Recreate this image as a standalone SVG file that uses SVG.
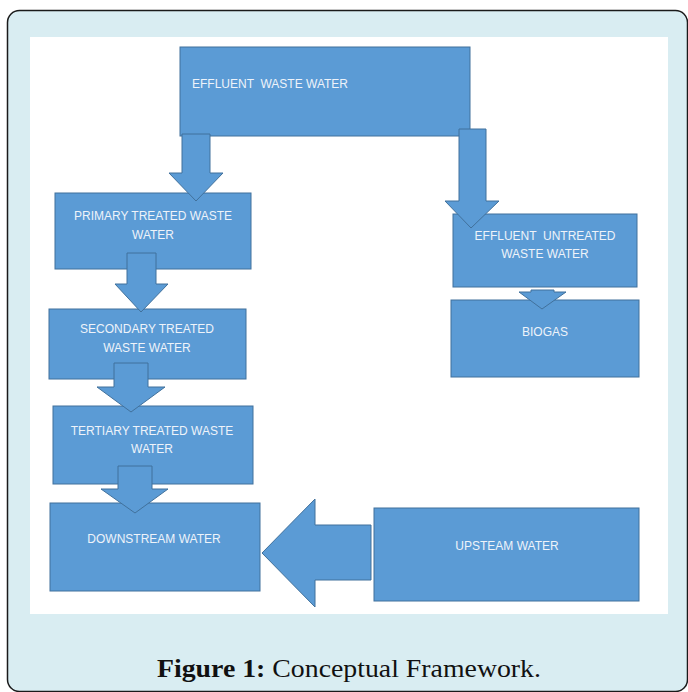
<svg xmlns="http://www.w3.org/2000/svg" width="688" height="692" viewBox="0 0 688 692">
<style>
.box{fill:#5b9bd5;stroke:#41719c;stroke-width:1}
.arr{fill:#5b9bd5;stroke:#41719c;stroke-width:1}
.lbl{font-family:"Liberation Sans",Arial,sans-serif;font-size:12px;fill:#eef3fa;text-anchor:middle;white-space:pre}
.cap{font-family:"Liberation Serif","Times New Roman",serif;font-size:25px;fill:#111}
</style>
<rect x="7.5" y="10.5" width="680" height="681" rx="12" ry="12" fill="#d9edf2" stroke="#1a1a1a" stroke-width="1.5"/>
<rect x="30" y="37" width="638" height="577" fill="#ffffff"/>

<g id="effluent"><rect class="box" x="180" y="47" width="290" height="89"/><text class="lbl" x="192" y="88" style="text-anchor:start">EFFLUENT  WASTE WATER</text></g>
<g id="primary"><rect class="box" x="55" y="193" width="196" height="76"/><text class="lbl" x="153" y="220">PRIMARY TREATED WASTE</text><text class="lbl" x="153" y="239">WATER</text></g>
<g id="secondary"><rect class="box" x="49" y="309" width="197" height="70"/><text class="lbl" x="147" y="333">SECONDARY TREATED</text><text class="lbl" x="147" y="352">WASTE WATER</text></g>
<g id="tertiary"><rect class="box" x="53" y="406" width="200" height="78"/><text class="lbl" x="152" y="435">TERTIARY TREATED WASTE</text><text class="lbl" x="152" y="453">WATER</text></g>
<g id="downstream"><rect class="box" x="50" y="503" width="210" height="88"/><text class="lbl" x="154" y="543">DOWNSTREAM WATER</text></g>
<g id="upstream"><rect class="box" x="374" y="508" width="265" height="93"/><text class="lbl" x="507" y="550">UPSTEAM WATER</text></g>
<g id="untreated"><rect class="box" x="453" y="214" width="184" height="73"/><text class="lbl" x="545" y="240">EFFLUENT  UNTREATED</text><text class="lbl" x="545" y="258">WASTE WATER</text></g>
<g id="biogas"><rect class="box" x="451" y="300" width="188" height="77"/><text class="lbl" x="545" y="336">BIOGAS</text></g>

<g id="connectors">
<polygon class="arr" points="182,134 210,134 210,173 223,173 196,201 169,173 182,173"/>
<polygon class="arr" points="459,129 486,129 486,201 499,201 471,228 445,201 459,201"/>
<polygon class="arr" points="127,253 156,253 156,284 168,284 141,312 115,284 127,284"/>
<polygon class="arr" points="114,363 148,363 148,387 165,387 131,412 97,387 114,387"/>
<polygon class="arr" points="118,466 152,466 152,489 168,489 135,513 101,489 118,489"/>
<polygon class="arr" points="531,290 554,290 554,292 566,292 542,309 519,292 531,292"/>
<polygon class="arr" points="371,525 371,580 315,580 315,607 262,553 315,499 315,525"/>
</g>

<text class="cap" x="157" y="677" textLength="384" lengthAdjust="spacingAndGlyphs"><tspan font-weight="bold">Figure 1:</tspan> Conceptual Framework.</text>
</svg>
